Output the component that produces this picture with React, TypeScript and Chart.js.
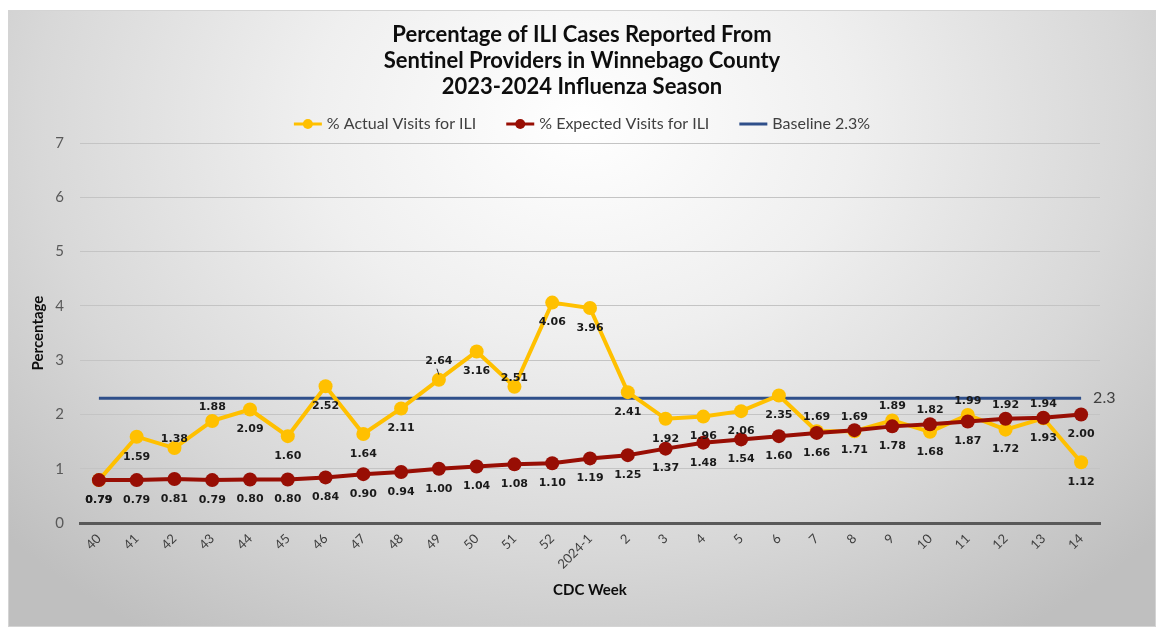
import { useEffect, useRef } from 'react';
import { Chart, registerables } from 'chart.js';

Chart.register(...registerables);

const weeks = ['40', '41', '42', '43', '44', '45', '46', '47', '48', '49', '50', '51', '52', '2024-1', '2', '3', '4', '5', '6', '7', '8', '9', '10', '11', '12', '13', '14'];
const actualVisits = [0.79, 1.59, 1.38, 1.88, 2.09, 1.60, 2.52, 1.64, 2.11, 2.64, 3.16, 2.51, 4.06, 3.96, 2.41, 1.92, 1.96, 2.06, 2.35, 1.69, 1.69, 1.89, 1.68, 1.99, 1.72, 1.93, 1.12];
const expectedVisits = [0.79, 0.79, 0.81, 0.79, 0.80, 0.80, 0.84, 0.90, 0.94, 1.00, 1.04, 1.08, 1.10, 1.19, 1.25, 1.37, 1.48, 1.54, 1.60, 1.66, 1.71, 1.78, 1.82, 1.87, 1.92, 1.94, 2.00];
const baselineValue = 2.3;
const baselineSeries = weeks.map(() => baselineValue);

// label placement: b = below, a = above, n = above (near), L = above with leader, r = right
const actualLabelPos = ['b', 'b', 'n', 'a', 'b', 'b', 'b', 'b', 'b', 'L', 'b', 'n', 'b', 'b', 'b', 'b', 'b', 'b', 'b', 'a', 'a', 'a', 'b', 'a', 'b', 'b', 'b'];
const expectedLabelPos = ['b', 'b', 'b', 'b', 'b', 'b', 'b', 'b', 'b', 'b', 'b', 'b', 'b', 'b', 'b', 'b', 'b', 'b', 'b', 'b', 'b', 'b', 'a', 'b', 'a', 'a', 'b'];
const baselineLabelPos = weeks.map((_, i) => (i === weeks.length - 1 ? 'r' : ''));

const seriesNames = ['% Actual Visits for ILI', '% Expected Visits for ILI', 'Baseline 2.3%'];
const titleLines = ['Percentage of ILI Cases Reported From', 'Sentinel Providers in Winnebago County', '2023-2024 Influenza Season'];

const YELLOW = '#FFC000';
const RED = '#980E04';
const BLUE = '#2F4F8A';
const FONT = 'Lato, "Open Sans", sans-serif';

const labelPlugin = {
  id: 'pointLabels',
  afterDatasetsDraw(chart: any) {
    const ctx = chart.ctx;
    ctx.save();
    chart.data.datasets.forEach((ds: any, i: number) => {
      const meta = chart.getDatasetMeta(i);
      const pos: string[] = ds.labelPos;
      meta.data.forEach((pt: any, j: number) => {
        const p = pos[j];
        if (!p) return;
        const v = ds.data[j] as number;
        let x = pt.x;
        let y = pt.y;
        ctx.textBaseline = 'middle';
        if (p === 'r') {
          ctx.font = `16px ${FONT}`;
          ctx.fillStyle = '#404040';
          ctx.textAlign = 'left';
          ctx.fillText(String(v), x + 12, y);
          return;
        }
        ctx.font = 'bold 11px "DejaVu Sans"';
        ctx.fillStyle = '#1a1a1a';
        ctx.textAlign = 'center';
        if (p === 'b') y += 20;
        else if (p === 'a') y -= 14;
        else if (p === 'n') y -= 9;
        else if (p === 'L') {
          y -= 19;
          ctx.strokeStyle = '#333';
          ctx.lineWidth = 1;
          ctx.beginPath();
          ctx.moveTo(x - 2, pt.y - 11);
          ctx.lineTo(x, pt.y - 5);
          ctx.stroke();
        }
        ctx.fillText(v.toFixed(2), x, y);
      });
    });
    ctx.restore();
  },
};

const headerPlugin = {
  id: 'header',
  afterDraw(chart: any) {
    const ctx = chart.ctx;
    const cx = chart.width / 2;
    ctx.save();
    ctx.fillStyle = '#0d0d0d';
    ctx.font = `bold 22px ${FONT}`;
    ctx.textAlign = 'center';
    ctx.textBaseline = 'middle';
    titleLines.forEach((t, i) => ctx.fillText(t, cx, 24 + i * 26));

    // legend
    ctx.font = `16px ${FONT}`;
    const colors = [YELLOW, RED, BLUE];
    const markers = [true, true, false];
    const iconW = 28;
    const gapIcon = 5;
    const gapItem = 30;
    const widths = seriesNames.map((n) => iconW + gapIcon + ctx.measureText(n).width);
    const total = widths.reduce((a, b) => a + b, 0) + gapItem * (seriesNames.length - 1);
    let x = cx - total / 2;
    const ly = 113;
    seriesNames.forEach((n, i) => {
      ctx.strokeStyle = colors[i];
      ctx.lineWidth = 3;
      ctx.beginPath();
      ctx.moveTo(x, ly);
      ctx.lineTo(x + iconW, ly);
      ctx.stroke();
      if (markers[i]) {
        ctx.fillStyle = colors[i];
        ctx.beginPath();
        ctx.arc(x + iconW / 2, ly, 5, 0, Math.PI * 2);
        ctx.fill();
      }
      ctx.fillStyle = '#404040';
      ctx.textAlign = 'left';
      ctx.fillText(n, x + iconW + gapIcon, ly);
      x += widths[i] + gapItem;
    });
    ctx.restore();
  },
};

export default function App() {
  const canvasRef = useRef<HTMLCanvasElement | null>(null);

  useEffect(() => {
    if (!canvasRef.current) return;
    const chart = new Chart(canvasRef.current, {
      type: 'line',
      data: {
        labels: weeks,
        datasets: [
          {
            label: seriesNames[0],
            data: actualVisits,
            borderColor: YELLOW,
            backgroundColor: YELLOW,
            borderWidth: 4,
            pointRadius: 7,
            pointBorderWidth: 0,
            pointBackgroundColor: YELLOW,
            tension: 0,
            order: 1,
            labelPos: actualLabelPos,
          } as any,
          {
            label: seriesNames[1],
            data: expectedVisits,
            borderColor: RED,
            backgroundColor: RED,
            borderWidth: 4,
            pointRadius: 7,
            pointBorderWidth: 0,
            pointBackgroundColor: RED,
            tension: 0,
            order: 0,
            labelPos: expectedLabelPos,
          } as any,
          {
            label: seriesNames[2],
            data: baselineSeries,
            borderColor: BLUE,
            backgroundColor: BLUE,
            borderWidth: 3,
            pointRadius: 0,
            tension: 0,
            order: 2,
            labelPos: baselineLabelPos,
          } as any,
        ],
      },
      options: {
        animation: false,
        responsive: false,
        layout: { padding: { top: 132, right: 55, bottom: 0, left: 0 } },
        plugins: {
          legend: { display: false },
          title: { display: false },
          tooltip: { enabled: false },
        },
        scales: {
          x: {
            type: 'category',
            offset: true,
            grid: { display: false, drawTicks: false },
            border: { display: true, color: '#595959', width: 3 },
            ticks: {
              minRotation: 45,
              maxRotation: 45,
              autoSkip: false,
              padding: 8,
              color: '#404040',
              font: { family: FONT, size: 13 },
            },
            title: {
              display: true,
              text: 'CDC Week',
              color: '#0d0d0d',
              font: { family: FONT, size: 15, weight: 'bold' },
              padding: { top: 0, bottom: 27 },
            },
            afterFit(s: any) {
              s.height = 103;
            },
          },
          y: {
            min: 0,
            max: 7,
            ticks: {
              stepSize: 1,
              padding: 16,
              color: '#595959',
              font: { family: FONT, size: 15 },
            },
            grid: { color: '#c4c4c4', lineWidth: 1, drawTicks: false },
            border: { display: false },
            title: {
              display: true,
              text: 'Percentage',
              color: '#0d0d0d',
              font: { family: FONT, size: 15, weight: 'bold' },
              padding: { top: 20, bottom: 0 },
            },
            afterFit(s: any) {
              s.width = 71;
            },
          },
        },
      } as any,
      plugins: [labelPlugin, headerPlugin],
    });
    return () => chart.destroy();
  }, []);

  return (
    <div style={{ position: 'fixed', left: 0, top: 0, width: 1163, height: 629, background: '#ffffff' }}>
      <div
        style={{
          position: 'absolute',
          left: 8,
          top: 10,
          width: 1148,
          height: 617,
          boxSizing: 'border-box',
          border: '1px solid #d4d4d4',
          background: 'radial-gradient(ellipse 68% 100% at 50% 18%, #ffffff 0%, #efefef 35%, #d8d8d8 70%, #bfbfbf 100%)',
        }}
      >
        <canvas ref={canvasRef} width={1146} height={615} style={{ display: 'block' }} />
      </div>
    </div>
  );
}
